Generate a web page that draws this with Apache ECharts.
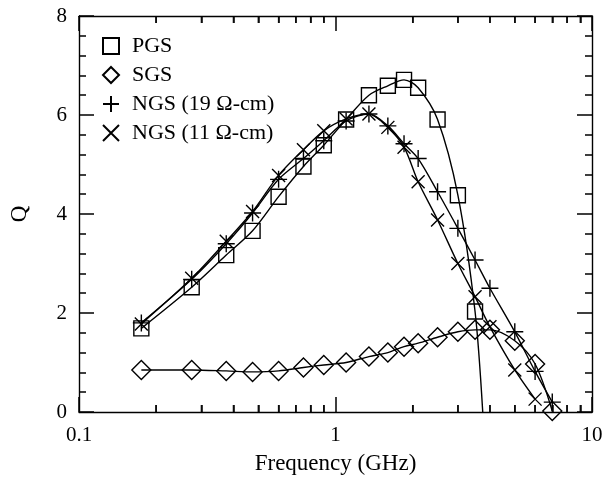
<!DOCTYPE html>
<html>
<head>
<meta charset="utf-8">
<script src="https://cdn.jsdelivr.net/npm/echarts@6/dist/echarts.min.js"></script>
<style>
  html, body { margin: 0; padding: 0; background: #fff; }
  #chart { width: 614px; height: 482px; }
</style>
</head>
<body>
<div id="chart"></div>
<script>
// ---- data ----
var seriesNames = ['PGS', 'SGS', 'NGS (19 Ω-cm)', 'NGS (11 Ω-cm)'];

var freqPGS = [0.175, 0.275, 0.375, 0.475, 0.6, 0.75, 0.9, 1.1, 1.35, 1.6, 1.85, 2.1, 2.5, 3.0, 3.5, 3.75];
var qPGS    = [1.69, 2.52, 3.17, 3.66, 4.35, 4.96, 5.39, 5.91, 6.40, 6.59, 6.71, 6.55, 5.91, 4.38, 2.03, 0.0];

var freqSGS = [0.175, 0.275, 0.375, 0.475, 0.6, 0.75, 0.9, 1.1, 1.35, 1.6, 1.85, 2.1, 2.5, 3.0, 3.5, 4.0, 5.0, 6.0, 7.0];
var qSGS    = [0.85, 0.85, 0.83, 0.81, 0.83, 0.90, 0.95, 1.00, 1.12, 1.20, 1.32, 1.39, 1.51, 1.62, 1.66, 1.66, 1.44, 0.97, 0.02];

var freqN19 = [0.175, 0.275, 0.375, 0.475, 0.6, 0.75, 0.9, 1.1, 1.35, 1.6, 1.85, 2.1, 2.5, 3.0, 3.5, 4.0, 5.0, 6.0, 7.0];
var qN19    = [1.80, 2.68, 3.40, 4.02, 4.70, 5.12, 5.48, 5.88, 6.02, 5.78, 5.42, 5.12, 4.45, 3.71, 3.07, 2.50, 1.62, 0.82, 0.20];

var freqN11 = [0.175, 0.275, 0.375, 0.475, 0.6, 0.75, 0.9, 1.1, 1.35, 1.6, 1.85, 2.1, 2.5, 3.0, 3.5, 4.0, 5.0, 6.0];
var qN11    = [1.78, 2.70, 3.45, 4.05, 4.78, 5.30, 5.68, 5.92, 6.02, 5.75, 5.35, 4.65, 3.88, 3.00, 2.33, 1.72, 0.85, 0.26];

// minor tick positions on the log axis
var xMinorTicks = [0.2, 0.3, 0.4, 0.5, 0.6, 0.7, 0.8, 0.9, 2, 3, 4, 5, 6, 7, 8, 9];

var yMin = 0, yMax = 8, yStep = 2;
var xMin = 0.1, xMax = 10;

function pairs(xs, ys) {
  return xs.map(function (x, i) { return [x, ys[i]]; });
}
var PLUS = 'path://M0,5L10,5M5,0L5,10';
var CROSS = 'path://M0,0L10,10M10,0L0,10';
var FONT = 'Liberation Serif';
var lastPGS = freqPGS.length - 1;

function xAxisCfg(pos) {
  return {
    type: 'log', min: xMin, max: xMax, position: pos,
    axisLine: { show: true, onZero: false, lineStyle: { color: '#000', width: 1.4 } },
    axisTick: { show: true, inside: true, length: 15, lineStyle: { color: '#000', width: 1.5 } },
    minorTick: { show: true, splitNumber: 9, length: 7, lineStyle: { color: '#000', width: 1.5 } },
    splitLine: { show: false }
  };
}
function yAxisCfg(pos) {
  return {
    type: 'value', min: yMin, max: yMax, interval: yStep, position: pos,
    axisLine: { show: true, onZero: false, lineStyle: { color: '#000', width: 1.4 } },
    axisTick: { show: true, inside: true, length: 15, lineStyle: { color: '#000', width: 1.5 } },
    minorTick: { show: true, splitNumber: 5, length: 7, lineStyle: { color: '#000', width: 1.5 } },
    splitLine: { show: false }
  };
}

var xb = xAxisCfg('bottom');
xb.name = 'Frequency (GHz)';
xb.nameLocation = 'middle';
xb.nameGap = 40;
xb.nameTextStyle = { fontFamily: FONT, fontSize: 23, color: '#000' };
xb.axisLabel = { show: true, margin: 13, fontFamily: FONT, fontSize: 21, color: '#000',
  formatter: function (v) { return String(v); } };
var xt = xAxisCfg('top');
xt.axisLabel = { show: false };

var yl = yAxisCfg('left');
yl.name = 'Q';
yl.nameLocation = 'middle';
yl.nameGap = 48;
yl.nameRotate = 90;
yl.nameTextStyle = { fontFamily: FONT, fontSize: 23, color: '#000' };
yl.axisLabel = { show: true, margin: 12, fontFamily: FONT, fontSize: 21, color: '#000' };
var yr = yAxisCfg('right');
yr.axisLabel = { show: false };

var chart = echarts.init(document.getElementById('chart'));
chart.setOption({
  animation: false,
  grid: { left: 77, right: 22, top: 16, bottom: 70 },
  legend: {
    orient: 'vertical', left: 97, top: 30,
    itemWidth: 16, itemHeight: 16, itemGap: 7,
    textStyle: { fontFamily: FONT, fontSize: 22, color: '#000', padding: [0, 0, 0, 8] },
    data: [
      { name: seriesNames[0], icon: 'rect' },
      { name: seriesNames[1], icon: 'diamond' },
      { name: seriesNames[2], icon: PLUS },
      { name: seriesNames[3], icon: CROSS }
    ]
  },
  xAxis: [xb, xt],
  yAxis: [yl, yr],
  series: [
    { name: seriesNames[0], type: 'line', data: pairs(freqPGS, qPGS), smooth: 0.3,
      symbol: 'rect',
      symbolSize: function (v, p) { return p.dataIndex === lastPGS ? 0 : 15; },
      itemStyle: { color: 'rgba(255,255,255,0)', borderColor: '#000', borderWidth: 1.4 },
      lineStyle: { color: '#000', width: 1.4 } },
    { name: seriesNames[1], type: 'line', data: pairs(freqSGS, qSGS), smooth: 0.3,
      symbol: 'diamond', symbolSize: 19,
      itemStyle: { color: 'rgba(255,255,255,0)', borderColor: '#000', borderWidth: 1.4 },
      lineStyle: { color: '#000', width: 1.4 } },
    { name: seriesNames[2], type: 'line', data: pairs(freqN19, qN19), smooth: 0.3,
      symbol: PLUS, symbolSize: 17,
      itemStyle: { color: 'rgba(255,255,255,0)', borderColor: '#000', borderWidth: 1.4 },
      lineStyle: { color: '#000', width: 1.4 } },
    { name: seriesNames[3], type: 'line', data: pairs(freqN11, qN11), smooth: 0.3,
      symbol: CROSS, symbolSize: 13,
      itemStyle: { color: 'rgba(255,255,255,0)', borderColor: '#000', borderWidth: 1.4 },
      lineStyle: { color: '#000', width: 1.4 } },
    { name: 'minorBottom', type: 'scatter', silent: true, clip: false,
      data: xMinorTicks.map(function (x) { return [x, yMin]; }),
      symbol: 'rect', symbolSize: [1.5, 7], symbolOffset: [0, -3.5],
      itemStyle: { color: '#000' } },
    { name: 'minorTop', type: 'scatter', silent: true, clip: false,
      data: xMinorTicks.map(function (x) { return [x, yMax]; }),
      symbol: 'rect', symbolSize: [1.5, 7], symbolOffset: [0, 3.5],
      itemStyle: { color: '#000' } }
  ]
});
</script>
</body>
</html>
